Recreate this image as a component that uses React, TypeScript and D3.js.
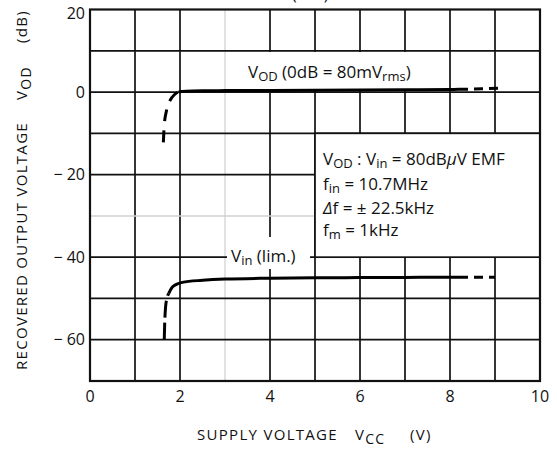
import React from "react";
import * as d3 from "d3";

const W = 557;
const H = 449;
const xTicks = [0, 2, 4, 6, 8, 10];
const yTicks = [20, 0, -20, -40, -60];
const yTickLabels = ["20", "0", "− 20", "− 40", "− 60"];
const xGrid = [1, 2, 3, 4, 5, 6, 7, 8, 9];
const yGrid = [10, 0, -10, -20, -30, -40, -50, -60];
const lightX = [3];
const lightY = [-30];

// V_OD curve
const vodStartX = [1.63, 1.65, 1.7, 1.78, 1.88, 1.97];
const vodStartY = [-12.2, -8, -4.5, -2, -0.6, 0.1];
const vodMidX = [1.97, 2.5, 3, 4, 5, 6, 7, 8, 8.2];
const vodMidY = [0.1, 0.3, 0.35, 0.4, 0.45, 0.5, 0.55, 0.6, 0.65];
const vodEndX = [8.2, 8.7, 9.2];
const vodEndY = [0.65, 0.8, 1.0];

// V_in (lim.) curve
const vinStartX = [1.65, 1.66, 1.68, 1.71, 1.75];
const vinStartY = [-60, -56, -52, -50, -48.8];
const vinMidX = [1.75, 1.82, 1.92, 2.05, 2.5, 3, 4, 5, 6, 7, 8, 8.2];
const vinMidY = [-48.8, -47.4, -46.6, -46.1, -45.6, -45.3, -45.1, -45.0, -44.95, -44.9, -44.85, -44.85];
const vinEndX = [8.2, 8.6, 9.0];
const vinEndY = [-44.85, -44.85, -44.85];

const FONT = "'Open Sans', 'DejaVu Sans', sans-serif";
const ANN = 17;
const SUB = 13;
const SD = 3;

export default function App() {
  const x = d3.scaleLinear().domain([0, 10]).range([90, 540]);
  const y = d3.scaleLinear().domain([-70, 20]).range([381, 9.5]);

  const line = d3
    .line<[number, number]>()
    .x((d) => x(d[0]))
    .y((d) => y(d[1]))
    .curve(d3.curveMonotoneX);
  const pts = (xs: number[], ys: number[]) => xs.map((v, i) => [v, ys[i]] as [number, number]);

  const curveStyle = { fill: "none", stroke: "#000", strokeWidth: 3, strokeLinecap: "butt" as const };

  return (
    <svg
      width={W}
      height={H}
      style={{ position: "absolute", left: 0, top: 0, background: "#fff" }}
      fontFamily={FONT}
    >
      <rect x={0} y={0} width={W} height={H} fill="#fff" />
      {/* partially visible text at the top edge */}
      <text x={292} y={0} fontSize={16} fill="#111">(lim.)</text>

      {/* grid */}
      {xGrid.map((v) => (
        <line
          key={"gx" + v}
          x1={x(v)}
          x2={x(v)}
          y1={y(20)}
          y2={y(-70)}
          stroke={lightX.includes(v) ? "#d8d8d8" : "#111"}
          strokeWidth={lightX.includes(v) ? 1.5 : 1.7}
        />
      ))}
      {yGrid.map((v) => (
        <line
          key={"gy" + v}
          x1={x(0)}
          x2={x(10)}
          y1={y(v)}
          y2={y(v)}
          stroke={lightY.includes(v) ? "#d0d0d0" : "#111"}
          strokeWidth={lightY.includes(v) ? 1.5 : 1.7}
        />
      ))}

      {/* conditions box */}
      <rect x={x(5)} y={y(-10)} width={x(10) - x(5)} height={y(-40) - y(-10)} fill="#fff" stroke="#111" strokeWidth={1.7} />
      <g fontSize={ANN} fill="#111">
        <text x={323} y={165}>
          V<tspan fontSize={SUB} dy={SD}>OD</tspan>
          <tspan dy={-SD}> : V</tspan>
          <tspan fontSize={SUB} dy={SD}>in</tspan>
          <tspan dy={-SD}> = 80dB</tspan>
          <tspan fontStyle="italic">μ</tspan>
          <tspan>V  EMF</tspan>
        </text>
        <text x={323} y={190}>
          f<tspan fontSize={SUB} dy={SD}>in</tspan>
          <tspan dy={-SD}> = 10.7MHz</tspan>
        </text>
        <text x={323} y={214}>
          <tspan fontStyle="italic">Δ</tspan>f = ± 22.5kHz
        </text>
        <text x={323} y={236}>
          f<tspan fontSize={SUB} dy={SD}>m</tspan>
          <tspan dy={-SD}> = 1kHz</tspan>
        </text>
      </g>

      {/* label backgrounds */}
      <rect x={244} y={52} width={196} height={37} fill="#fff" />
      <text x={248} y={78} fontSize={ANN} fill="#111">
        V<tspan fontSize={SUB} dy={SD}>OD</tspan>
        <tspan dy={-SD}>  (0dB = 80mV</tspan>
        <tspan fontSize={SUB} dy={SD}>rms</tspan>
        <tspan dy={-SD}>)</tspan>
      </text>
      <rect x={227} y={237} width={83} height={32} fill="#fff" />
      <text x={231} y={262} fontSize={ANN} fill="#111">
        V<tspan fontSize={SUB} dy={SD}>in</tspan>
        <tspan dy={-SD}> (lim.)</tspan>
      </text>

      {/* frame */}
      <rect x={x(0)} y={y(20)} width={x(10) - x(0)} height={y(-70) - y(20)} fill="none" stroke="#111" strokeWidth={2.2} />

      {/* curves */}
      <path d={line(pts(vodStartX, vodStartY)) || ""} {...curveStyle} strokeDasharray="12,9" />
      <path d={line(pts(vodMidX, vodMidY)) || ""} {...curveStyle} />
      <path d={line(pts(vodEndX, vodEndY)) || ""} {...curveStyle} strokeDasharray="9,6" />
      <path d={line(pts(vinStartX, vinStartY)) || ""} {...curveStyle} strokeDasharray="17,5" />
      <path d={line(pts(vinMidX, vinMidY)) || ""} {...curveStyle} />
      <path d={line(pts(vinEndX, vinEndY)) || ""} {...curveStyle} strokeDasharray="9,6" />

      {/* y tick labels */}
      {yTicks.map((v, i) => (
        <text key={"yt" + v} x={85} y={Math.max(y(v), 13)} dy="0.36em" textAnchor="end" fontSize={16} fill="#111">
          {yTickLabels[i]}
        </text>
      ))}
      {/* x tick labels */}
      {xTicks.map((v) => (
        <text key={"xt" + v} x={x(v)} y={402} textAnchor="middle" fontSize={16} fill="#111">
          {v}
        </text>
      ))}

      {/* x axis title */}
      <g fontSize={15} fill="#111" letterSpacing={1.3}>
        <text x={197} y={440}>SUPPLY VOLTAGE</text>
        <text x={355} y={440}>
          V<tspan fontSize={14} dy={4}>CC</tspan>
        </text>
        <text x={410} y={440}>(V)</text>
      </g>

      {/* y axis title */}
      <g transform="translate(27,0) rotate(-90)" fontSize={15} fill="#111" letterSpacing={1.3}>
        <text x={-370} y={0}>RECOVERED OUTPUT VOLTAGE</text>
        <text x={-100} y={0}>
          V<tspan fontSize={14} dy={4}>OD</tspan>
        </text>
        <text x={-43} y={0}>(dB)</text>
      </g>
    </svg>
  );
}
